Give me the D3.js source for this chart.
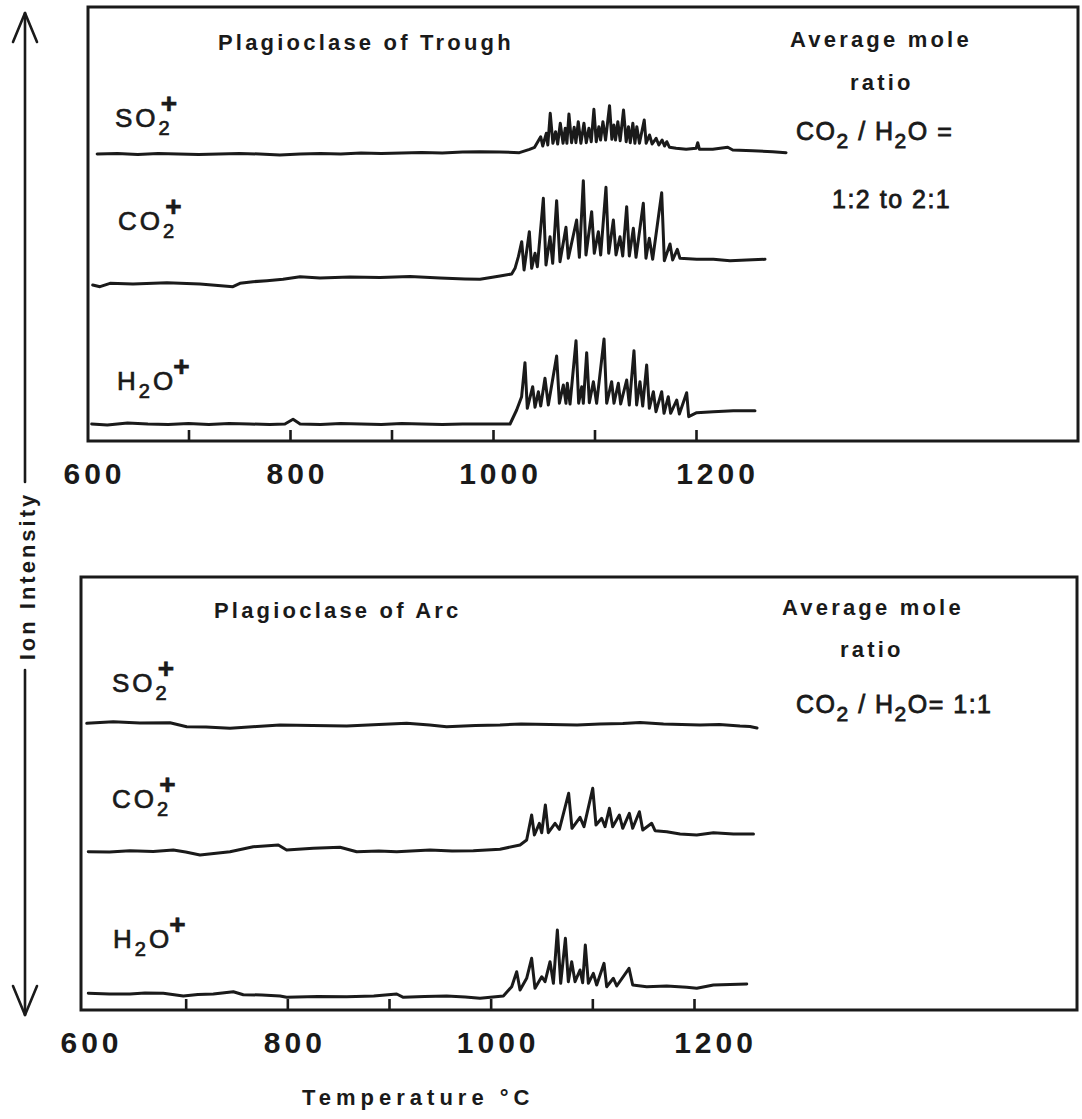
<!DOCTYPE html>
<html><head><meta charset="utf-8">
<script src="https://cdn.jsdelivr.net/npm/d3@7/dist/d3.min.js"></script>
<style>
html,body{margin:0;padding:0;background:#fff;}
svg{display:block;}
text{font-family:"Liberation Sans",Arial,Helvetica,sans-serif;fill:#1a1a1a;}
</style></head>
<body>
<svg id="c" width="1082" height="1119"></svg>
<script>
// ---------------- DATA ----------------
const tickTemps = [700, 800, 900, 1000, 1100, 1200];
const labelTemps = [600, 800, 1000, 1200];
const panelTitles = ["Plagioclase of Trough", "Plagioclase of Arc"];
const ratioLines = [["1:2 to 2:1"], ["1:1"]];
const xAxisTitle = "Temperature °C";
const yAxisTitle = "Ion Intensity";

// [temperature °C, ion intensity (arbitrary units, offset per trace)]
const troughSO2 = [[610,287],[630,287.5],[650,286.5],[670,287.5],[690,287],[710,286.5],[730,287],[750,287.5],[770,287],[790,286],[810,287],[830,287.5],[850,287],[870,288],[890,287.5],[910,288],[930,288.5],[950,288],[970,289],[987,289.3],
[1006.6,289],[1026,288.3],[1036,291.7],[1041,293.7],[1047,304.3],[1049,295],[1052.5,307.7],[1054,296],[1056.4,327.7],[1059,297.7],[1061.7,309.3],[1063.7,297],[1066.3,317.7],[1069,297.7],[1071.2,312.7],[1072.8,297.7],[1074.8,327],[1077.4,298.3],[1080,313.7],[1081.7,298.3],[1084,319.3],[1086.6,297.7],[1089.6,317.7],[1091.9,298.3],[1094.5,312.7],[1096.8,299.3],[1099.4,331.7],[1101.7,299.3],[1104.3,314.3],[1106,301],[1108.3,319.3],[1110.9,301],[1114.8,335.3],[1117.1,301.7],[1119.1,316],[1120.7,301],[1123,319.3],[1125.3,300.3],[1128.6,331],[1131.2,299.3],[1133.5,314.3],[1135.2,298.3],[1137.8,317.7],[1139.8,297.7],[1141.7,314.3],[1144.3,297.7],[1149,321],[1150.9,297.7],[1154.2,306],[1156.8,297],[1160.7,302.7],[1163.4,296],[1166.6,301],[1169,295],[1171.2,299.3],[1173.9,293.7],[1180.4,292.7],[1190.3,291.7],[1200.1,292.7],[1201.7,298.3],[1203.4,291.7],[1216.5,291.7],[1231.3,293.7],[1236.2,291],[1255.9,290.3],[1275.5,289.3],[1288.7,288.3]];

const troughCO2 = [[605.6,156],[612.8,154.3],[622.7,157.7],[645.3,157],[678.8,158.3],[711.3,157],[743.8,154.3],[750.7,157.7],[763.5,159.3],[777.3,160.3],[793.1,161.7],[809.9,164.3],[829.6,163],[859.1,164],[888.7,163.5],[918.2,164.5],[947.8,163],[972.4,162],
[987.2,161.7],[1006.9,165],[1018.4,167],[1021.7,172.7],[1025,184.3],[1028.3,199.3],[1030.6,171],[1035.8,209.3],[1038.1,172.7],[1041.4,187.7],[1043.7,174.3],[1049.6,242.7],[1052.2,176],[1056.2,204.3],[1058.8,177.7],[1062.7,240.3],[1066,179.3],[1071.9,213.7],[1074.2,182.7],[1082.4,221],[1085.1,183.7],[1089,260.3],[1091.6,186],[1097.2,229.3],[1099.8,187.7],[1103.8,209.3],[1106.1,186],[1111.3,253.7],[1114,187.7],[1118.6,221],[1121.2,186],[1125.1,204.3],[1127.8,185],[1131.7,234.3],[1134.3,185],[1138.3,212.7],[1140.9,183.7],[1148.1,237.7],[1150.7,182.7],[1154,202.7],[1157.3,181.7],[1166.2,248.3],[1168.8,180.3],[1174.4,197],[1177,181],[1181.6,191.7],[1184.2,182.7],[1200.7,181.7],[1217.1,181.7],[1233.5,180.3],[1249.9,181],[1268,181.7]];

const troughH2O = [[604.6,17],[620,16],[640,18],[660,17],[680,16.5],[700,17.5],[720,16.5],[740,17.5],[760,17],[780,16.5],[795,17],[803,21.7],[810,17],[830,16.5],[850,17.5],[870,17],[890,16.5],[910,17.5],[930,17],[950,16.5],[970,17],[987,17],
[1016.8,17],[1023.3,31],[1028.2,44.3],[1031.5,78.3],[1033.8,32.7],[1039.1,54.3],[1041.4,33.7],[1044.7,49.3],[1047,35],[1051.2,62.7],[1054.5,36],[1062.7,85],[1065.4,37.7],[1069.3,56],[1071.9,37.7],[1073.2,57.7],[1075.9,37],[1081.8,100.3],[1084.4,37.7],[1087.4,54.3],[1089,37.7],[1092.3,88.3],[1094.9,38.3],[1098.9,59.3],[1102.1,37.7],[1109.4,102],[1112,37.7],[1116.9,59.3],[1119.2,37.7],[1123.5,57.7],[1125.8,37],[1131.7,61],[1134.3,36],[1138.9,90.3],[1141.5,36],[1144.8,59.3],[1147.5,35],[1151.4,76],[1154,32.7],[1158,49.3],[1160.6,29.3],[1166.2,49.3],[1168.5,27.7],[1172.7,44.3],[1175,27.7],[1181,41],[1183.6,27],[1190.8,48.3],[1192.8,24.3],[1200.7,28.3],[1217.1,29.3],[1236.8,30.3],[1258.1,30.3]];

const arcSO2 = [[602.7,286.7],[628.8,288.3],[655,287],[684.6,287.3],[701,283.3],[720,283],[743.6,281.7],[770,283.5],[792.8,285],[825,284.5],[858.4,284],[890,285.5],[917.4,286.7],[940,285],[956.7,283.3],[985,284.5],[1009.2,285],[1030,286],[1058.3,285.5],[1085,285],[1107.5,286],[1130,286.5],[1146.9,287.5],[1170,286],[1205.9,285],[1225,285.5],[1245.2,284],[1255,283.5],[1262,282]];

const arcCO2 = [[604.2,158.3],[625,158],[645.2,159.3],[668,158.5],[687.8,160],[700,158],[714.1,155],[743.6,158.3],[766.5,163.3],[791.1,165],[799.3,160],[825.5,161.7],[851.8,162.7],[868.2,158.3],[890,159],[907.6,158.3],[940.3,160],[962,159],[982.9,159.3],
[1009.2,160.7],[1028.9,165],[1035.4,170],[1040.3,195],[1043,175],[1047.9,186.7],[1050.2,177.3],[1053.8,205],[1056.7,177.3],[1063.3,186.7],[1067.6,180.7],[1076.7,216.7],[1080,181.7],[1087.9,192.7],[1091.8,183.3],[1100.4,221.7],[1103.6,185],[1109.2,191.7],[1112.5,183.3],[1116.8,201.7],[1120,183.3],[1126.6,195],[1129.9,181.7],[1136.4,196.7],[1139.7,181.7],[1146.3,198.3],[1149.6,180],[1158.4,186.7],[1161.7,179.3],[1173.2,178.3],[1186.3,176],[1202.7,175],[1219.1,177.3],[1238.8,176],[1258.5,176]];

const arcH2O = [[604.2,16.7],[625,16],[645.2,16],[660,17],[678,16.7],[697.7,14],[712,15.5],[727.2,16],[746.9,18.3],[756.7,15.3],[775,15],[792.8,14],[799.3,12.7],[830,13.5],[858.4,13.3],[885,14],[907.6,16],[914.1,12.7],[935,13.5],[956.7,14],[975,13],[989.5,11.7],
[1012.5,14],[1020.7,23.3],[1025.6,38.3],[1028.9,20],[1035.4,31.7],[1040.3,51.7],[1043.6,21.7],[1050.2,33.3],[1053.5,28.3],[1058.4,48.3],[1061.7,26.7],[1065.6,80],[1068.9,26.7],[1073.5,71.7],[1076.4,28.3],[1079.7,48.3],[1083,28.3],[1087.9,40],[1090.5,27.3],[1093.1,65],[1096.1,26.7],[1101,36.7],[1104.3,25],[1111.5,46.7],[1114.1,23.3],[1120.7,31.7],[1124,24],[1136.1,41.7],[1139.7,25],[1153.5,23.3],[1173.2,24],[1192.9,22.7],[1202.7,21.7],[1219.1,25],[1251.9,26]];

const traceLabels = [["SO", "2", "+"], ["CO", "2", "+"], ["H", "2", "O", "+"]];

// ---------------- DRAW ----------------
const svg = d3.select("#c");
const INK = "#1a1a1a";

const panels = [
  {title: panelTitles[0], box: {l: 88, t: 7, r: 1078, b: 441}, xr: [87, 696],
   traces: [troughSO2, troughCO2, troughH2O], labelY: [127, 230, 390], labelX: [115, 118, 117],
   titleX: 218, titleY: 50, avgX: 790, avgY: 47, ratioX: 850, ratioY: 90, formY: 140, resX: 832, resY: 208, inline: false},
  {title: panelTitles[1], box: {l: 81, t: 577, r: 1077, b: 1010}, xr: [84, 694],
   traces: [arcSO2, arcCO2, arcH2O], labelY: [692, 808, 948], labelX: [112, 112, 113],
   titleX: 214, titleY: 618, avgX: 782, avgY: 615, ratioX: 840, ratioY: 657, formY: 713, resX: 0, resY: 0, inline: true}
];

panels.forEach((p, pi) => {
  const x = d3.scaleLinear().domain([600, 1200]).range(p.xr);
  const y = d3.scaleLinear().domain([0, 434]).range([p.box.b, p.box.b - 434]);
  const g = svg.append("g");

  // frame
  g.append("rect").attr("x", p.box.l).attr("y", p.box.t)
    .attr("width", p.box.r - p.box.l).attr("height", p.box.b - p.box.t)
    .attr("fill", "none").attr("stroke", INK).attr("stroke-width", 3);

  // inward ticks
  const ax = d3.axisBottom(x).tickValues(tickTemps).tickSizeInner(-11).tickSizeOuter(0).tickFormat("");
  const ag = g.append("g").attr("transform", `translate(0,${p.box.b})`).call(ax);
  ag.select(".domain").remove();
  ag.selectAll(".tick line").attr("stroke", INK).attr("stroke-width", 2.6);

  // tick labels
  const al = d3.axisBottom(x).tickValues(labelTemps).tickSize(0).tickPadding(0).tickFormat(d3.format("d"));
  const lg = g.append("g").attr("transform", `translate(7,${p.box.b})`).call(al);
  lg.select(".domain").remove();
  lg.selectAll(".tick text").attr("y", 43).attr("dy", 0)
    .attr("x", d => d === 1200 ? 14 : 0)
    .style("font-family", '"Liberation Sans",Arial,sans-serif')
    .style("font-size", "30px").style("font-weight", "bold").style("letter-spacing", "4px")
    .attr("fill", INK);

  // traces
  const line = d3.line().x(d => x(d[0])).y(d => y(d[1]));
  p.traces.forEach(tr => {
    g.append("path").datum(tr).attr("d", line)
      .attr("fill", "none").attr("stroke", INK).attr("stroke-width", 3)
      .attr("stroke-linejoin", "round").attr("stroke-linecap", "round");
  });

  // trace labels
  traceLabels.forEach((lab, i) => {
    const t = g.append("text").attr("x", p.labelX[i]).attr("y", p.labelY[i])
      .style("font-size", "26px").style("letter-spacing", "3px")
      .attr("stroke", INK).attr("stroke-width", 0.7);
    if (lab.length === 3) {
      t.append("tspan").text(lab[0]);
      t.append("tspan").text(lab[1]).style("font-size", "20px").attr("dy", 8);
      t.append("tspan").text(lab[2]).style("font-size", "28px").style("font-weight", "bold").attr("dx", -12).attr("dy", -22);
    } else {
      t.append("tspan").text(lab[0]);
      t.append("tspan").text(lab[1]).style("font-size", "20px").attr("dy", 8);
      t.append("tspan").text(lab[2]).attr("dy", -8);
      t.append("tspan").text(lab[3]).style("font-size", "28px").style("font-weight", "bold").attr("dx", -3).attr("dy", -14);
    }
  });

  // titles
  const bold = sel => sel.style("font-size", "22px").style("font-weight", "bold").style("letter-spacing", "3.2px");
  bold(g.append("text").attr("x", p.titleX).attr("y", p.titleY).text(p.title));
  bold(g.append("text").attr("x", p.avgX).attr("y", p.avgY).text("Average mole"));
  bold(g.append("text").attr("x", p.ratioX).attr("y", p.ratioY).text("ratio"));

  const f = g.append("text").attr("x", 796).attr("y", p.formY)
    .style("font-size", "25px").style("letter-spacing", "1.5px")
    .attr("stroke", INK).attr("stroke-width", 0.8);
  f.append("tspan").text("CO");
  f.append("tspan").text("2").style("font-size", "21px").attr("dy", 8);
  f.append("tspan").text(" / H").attr("dy", -8);
  f.append("tspan").text("2").style("font-size", "21px").attr("dy", 8);
  if (p.inline) {
    f.append("tspan").text("O= " + ratioLines[pi][0]).attr("dy", -8);
  } else {
    f.append("tspan").text("O =").attr("dy", -8);
    g.append("text").attr("x", p.resX).attr("y", p.resY).text(ratioLines[pi][0])
      .style("font-size", "25px").style("letter-spacing", "1.5px")
      .attr("stroke", INK).attr("stroke-width", 0.8);
  }
});

// x-axis title
svg.append("text").attr("x", 302).attr("y", 1105).text(xAxisTitle)
  .style("font-size", "22px").style("font-weight", "bold").style("letter-spacing", "5px");

// y-axis arrow + title
const ax0 = 25, yt = 13, yb = 1015, gap1 = 482, gap2 = 670;
const ya = svg.append("g").attr("stroke", INK).attr("stroke-width", 2.6).attr("fill", "none")
  .attr("stroke-linecap", "round").attr("stroke-linejoin", "round");
ya.append("line").attr("x1", ax0).attr("x2", ax0).attr("y1", yt).attr("y2", gap1);
ya.append("line").attr("x1", ax0).attr("x2", ax0).attr("y1", gap2).attr("y2", yb);
ya.append("path").attr("d", `M${ax0 - 12},${yt + 29} L${ax0},${yt} L${ax0 + 12},${yt + 29}`);
ya.append("path").attr("d", `M${ax0 - 12},${yb - 29} L${ax0},${yb} L${ax0 + 12},${yb - 29}`);
svg.append("text").attr("transform", `translate(35,576) rotate(-90)`)
  .attr("text-anchor", "middle").text(yAxisTitle)
  .style("font-size", "22px").style("font-weight", "bold").style("letter-spacing", "3px");
</script>
</body></html>
